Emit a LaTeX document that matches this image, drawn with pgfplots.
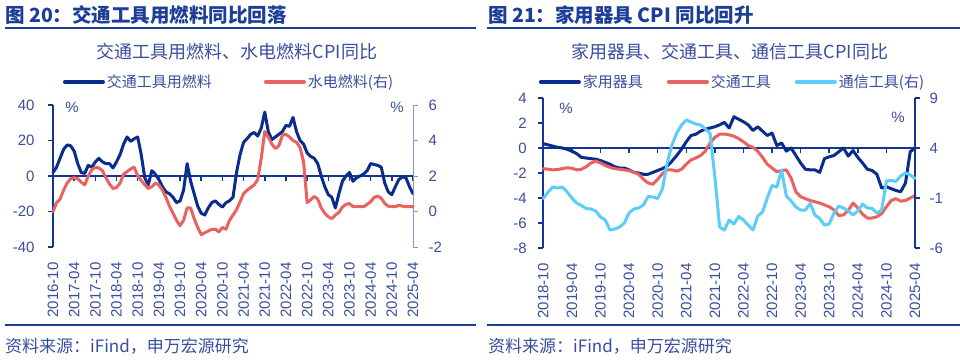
\documentclass[border=0pt]{standalone}
\usepackage{fontspec}
\setmainfont{Liberation Sans}
\newfontfamily\cjk{Noto Sans CJK SC}
\usepackage{pgfplots}
\usepackage{pgfplotstable}
\pgfplotsset{compat=1.18}
\definecolor{hdr}{RGB}{28,62,150}
\definecolor{txt}{RGB}{58,78,158}
\definecolor{dkb}{RGB}{10,44,140}
\definecolor{sal}{RGB}{233,98,95}
\definecolor{ltb}{RGB}{92,205,250}
\definecolor{rax}{RGB}{135,152,200}
\definecolor{axc}{RGB}{20,52,150}

\pgfplotstableread{
i b r
0 2 0.0
1 5 0.5
2 10 0.7
3 15 1.2
4 17.5 1.6
5 17 1.85
6 14 1.9
7 7 1.85
8 2 1.65
9 1.5 1.5
10 6 2.0
11 5 2.35
12 8 2.5
13 10 2.45
14 8 2.3
15 7 1.9
16 7 1.55
17 4.5 1.3
18 8 1.35
19 12 1.6
20 18 2.1
21 22 2.25
22 19.5 2.4
23 21 2.5
24 22 2.0
25 12 1.75
26 -1 1.5
27 -5 1.3
28 3 1.4
29 1 1.6
30 -2 1.5
31 -6 1.2
32 -9 0.8
33 -10 0.3
34 -12 -0.1
35 -15 -0.5
36 -14 -0.8
37 -8 -0.5
38 7 0.2
39 -3 0.2
40 -10 -0.4
41 -17 -0.9
42 -21 -1.3
43 -22 -1.2
44 -18 -1.1
45 -15 -1.0
46 -14 -1.0
47 -16 -1.15
48 -17.5 -0.9
49 -15 -1.0
50 -14 -0.5
51 -12 -0.2
52 2 0.1
53 12 0.55
54 19 1.0
55 21 1.2
56 23.5 1.35
57 24.5 1.5
58 22.5 1.8
59 27 3.0
60 36 4.5
61 25 4.2
62 20.5 3.8
63 22 3.55
64 23.5 3.7
65 25 4.3
66 28.5 4.35
67 28 4.2
68 33 4.0
69 25 3.9
70 20 3.6
71 18 2.8
72 13 0.5
73 11 0.65
74 10 0.85
75 7 0.7
76 0 0.2
77 -6 -0.1
78 -10.5 -0.3
79 -12 -0.4
80 -18 -0.2
81 -10 -0.05
82 -3 0.25
83 0 0.4
84 2 0.45
85 -3 0.27
86 -1 0.27
87 0 0.27
88 1 0.27
89 3 0.4
90 7 0.55
91 6.5 0.8
92 6 0.87
93 5 0.75
94 -4 0.45
95 -9 0.3
96 -10.5 0.27
97 -6 0.27
98 -2 0.35
99 -0.5 0.3
100 -1 0.27
101 -6 0.27
102 -10 0.27
}\Ldata

\pgfplotstableread{
i h t c
0 0.35 -1.65 -1.05
1 0.25 -1.7 -0.4
2 0.15 -1.75 0.1
3 0.05 -1.72 0.0
4 0.0 -1.65 0.1
5 -0.1 -1.58 -0.4
6 -0.25 -1.62 -1.0
7 -0.45 -1.75 -1.5
8 -0.75 -1.7 -1.75
9 -0.8 -1.5 -2.05
10 -0.85 -1.2 -2.1
11 -0.9 -1.05 -2.3
12 -1.0 -1.2 -2.9
13 -1.15 -1.4 -3.2
14 -1.3 -1.55 -4.2
15 -1.5 -1.65 -4.1
16 -1.6 -1.7 -3.9
17 -1.6 -1.75 -3.5
18 -1.75 -1.82 -2.5
19 -1.95 -1.95 -2.1
20 -2.0 -2.1 -2.0
21 -2.1 -2.5 -1.7
22 -2.1 -2.8 -0.85
23 -1.95 -2.9 -0.9
24 -1.8 -2.5 -1.05
25 -1.65 -2.05 -0.1
26 -1.45 -1.75 2.5
27 -1.05 -1.75 4.3
28 -0.6 -1.85 5.5
29 -0.1 -1.7 6.3
30 0.5 -1.3 6.8
31 1.0 -0.95 6.6
32 1.1 -0.8 6.4
33 1.35 -0.6 6.3
34 1.5 -0.25 5.9
35 1.6 0.4 5.45
36 1.7 0.85 1.1
37 1.85 1.1 -3.9
38 2.05 1.12 -4.2
39 1.6 1.05 -3.2
40 2.5 0.95 -3.6
41 2.3 0.75 -2.85
42 2.1 0.5 -3.2
43 1.85 0.2 -3.7
44 1.4 0.05 -4.2
45 1.7 -0.25 -2.8
46 1.35 -0.75 -2.4
47 1.0 -1.3 -1.0
48 1.2 -1.6 0.25
49 0.2 -1.9 0.1
50 0.4 -1.8 1.8
51 -0.25 -1.75 -0.8
52 0.0 -2.4 -1.3
53 -0.6 -3.5 -1.9
54 -1.2 -3.9 -2.2
55 -1.7 -4.05 -2.2
56 -1.75 -4.2 -1.55
57 -1.75 -4.3 -2.7
58 -1.95 -4.4 -3.05
59 -0.85 -4.55 -3.7
60 -0.7 -4.7 -3.6
61 -0.6 -4.95 -2.5
62 -0.3 -5.4 -1.8
63 0.0 -5.35 -2.0
64 -0.65 -5.0 -2.3
65 -0.2 -4.4 -2.7
66 -0.75 -4.8 -2.3
67 -1.2 -5.3 -1.6
68 -1.7 -5.6 -2.0
69 -1.8 -5.6 -2.05
70 -2.1 -5.5 -2.5
71 -3.2 -5.25 -2.2
72 -3.1 -4.7 0.7
73 -3.25 -4.2 0.75
74 -3.4 -4.05 0.65
75 -3.5 -4.25 1.2
76 -2.8 -4.2 1.5
77 -0.3 -4.0 1.3
78 0.0 -3.8 0.95
}\Rdata

\pgfplotsset{
  base/.style={scale only axis, anchor=south west, clip=false,
    enlargelimits=false, xmin=0,
    tick label style={font=\fontsize{15}{15}\selectfont, text=txt},
    major tick length=5pt, tick align=outside,
    every axis plot/.append style={line join=round, line cap=round}},
  zline/.style={axis x line=middle, axis y line=none,
    x axis line style={-, draw=axc, line width=1.5pt},
    xtick style={draw=axc, line width=1.5pt, yshift=-2.5pt},
    tick align=center, xticklabels={}, ytick=\empty},
  lgd/.style={legend style={draw=none, fill=none, legend columns=-1,
      font=\cjk\fontsize{15}{15}\selectfont, text=txt, inner sep=0pt},
    legend image code/.code={\draw[##1, line width=4pt] (0pt,0pt) -- (38pt,0pt);}},
  xlab/.style={axis x line*=bottom, x axis line style={draw=none}, xtick style={draw=none},
    xticklabel style={yshift=-7pt, rotate=90, anchor=east}},
}

\begin{document}
\begin{tikzpicture}[x=1pt,y=1pt]
\useasboundingbox[fill=white] (0,0) rectangle (960,360);

% ---------- headers / footers ----------
\node[anchor=west, font=\cjk\bfseries\fontsize{19.5}{19.5}\selectfont, text=hdr, inner sep=0pt] at (5,345) {图 20：交通工具用燃料同比回落};
\node[anchor=west, font=\cjk\bfseries\fontsize{19.5}{19.5}\selectfont, text=hdr, inner sep=0pt] at (488,345) {图 21：家用器具 CPI 同比回升};
\draw[hdr, line width=2.5pt] (5,332) -- (476,332);
\draw[hdr, line width=2.5pt] (487,332) -- (960,332);
\draw[hdr, line width=2pt] (5,35) -- (476,35);
\draw[hdr, line width=2pt] (487,35) -- (960,35);
\node[anchor=west, font=\cjk\fontsize{17}{17}\selectfont, text=txt, inner sep=0pt] at (5,14) {资料来源：iFind，申万宏源研究};
\node[anchor=west, font=\cjk\fontsize{17}{17}\selectfont, text=txt, inner sep=0pt] at (488,14) {资料来源：iFind，申万宏源研究};
\node[font=\cjk\fontsize{18}{18}\selectfont, text=txt] at (237,308) {交通工具用燃料、水电燃料CPI同比};
\node[font=\cjk\fontsize{18}{18}\selectfont, text=txt] at (730,308) {家用器具、交通工具、通信工具CPI同比};
\node[font=\fontsize{15}{15}\selectfont, text=txt] at (72,253) {\%};
\node[font=\fontsize{15}{15}\selectfont, text=txt] at (397,253) {\%};
\node[font=\fontsize{15}{15}\selectfont, text=txt] at (566,252) {\%};
\node[font=\fontsize{15}{15}\selectfont, text=txt] at (898,243) {\%};

% ---------- left panel ----------
\begin{axis}[base, zline, at={(53pt,113pt)}, width=360pt, height=142pt,
  xmax=102, ymin=-40, ymax=40, xtick={0,6,...,102}]
\addplot[draw=none] coordinates {(0,0)};
\end{axis}

\begin{axis}[base, xlab, lgd, at={(53pt,113pt)}, width=360pt, height=142pt,
  xmax=102, ymin=-40, ymax=40,
  axis y line*=left,
  y axis line style={draw=axc, line width=2pt},
  ytick style={draw=axc, line width=1.5pt},
  yticklabel style={xshift=-10pt},
  ytick={-40,-20,0,20,40}, yticklabels={-40,-20,0,20,40},
  xtick={0,6,...,102},
  xticklabels={2016-10,2017-04,2017-10,2018-04,2018-10,2019-04,2019-10,2020-04,2020-10,2021-04,2021-10,2022-04,2022-10,2023-04,2023-10,2024-04,2024-10,2025-04},
  legend style={at={(0.489,1.162)}, anchor=center, /tikz/every even column/.append style={column sep=50pt}}]
\addplot[dkb, line width=3pt] table[x=i, y=b] {\Ldata};
\addlegendentry{交通工具用燃料}
\addlegendimage{sal, line width=3pt}
\addlegendentry{水电燃料(右)}
\end{axis}

\begin{axis}[base, at={(53pt,113pt)}, width=360pt, height=142pt,
  xmax=102, ymin=-2, ymax=6,
  axis y line*=right, axis x line=none,
  y axis line style={draw=rax, line width=1pt},
  ytick style={draw=rax, line width=1pt},
  yticklabel style={xshift=7pt},
  ytick={-2,0,2,4,6}, yticklabels={-2,0,2,4,6}]
\addplot[sal, line width=3pt] table[x=i, y=r] {\Ldata};
\end{axis}

% ---------- right panel ----------
\begin{axis}[base, zline, at={(543.3pt,112pt)}, width=371.7pt, height=150pt,
  xmax=78, ymin=-8, ymax=4, xtick={0,6,...,78}]
\addplot[draw=none] coordinates {(0,0)};
\end{axis}

\begin{axis}[base, xlab, lgd, at={(543.3pt,112pt)}, width=371.7pt, height=150pt,
  xmax=78, ymin=-8, ymax=4,
  axis y line*=left,
  y axis line style={draw=axc, line width=2pt},
  ytick style={draw=axc, line width=1.5pt},
  yticklabel style={xshift=-8pt},
  ytick={-8,-6,-4,-2,0,2,4}, yticklabels={-8,-6,-4,-2,0,2,4},
  xtick={0,6,...,78},
  xticklabels={2018-10,2019-04,2019-10,2020-04,2020-10,2021-04,2021-10,2022-04,2022-10,2023-04,2023-10,2024-04,2024-10,2025-04},
  legend style={at={(0.509,1.107)}, anchor=center, /tikz/every even column/.append style={column sep=22pt}}]
\addplot[dkb, line width=3pt] table[x=i, y=h] {\Rdata};
\addlegendentry{家用器具}
\addplot[sal, line width=3pt] table[x=i, y=t] {\Rdata};
\addlegendentry{交通工具}
\addlegendimage{ltb, line width=3pt}
\addlegendentry{通信工具(右)}
\end{axis}

\begin{axis}[base, at={(543.3pt,112pt)}, width=371.7pt, height=150pt,
  xmax=78, ymin=-6, ymax=9,
  axis y line*=right, axis x line=none,
  y axis line style={draw=axc, line width=2pt},
  ytick style={draw=axc, line width=1.5pt},
  yticklabel style={xshift=6pt},
  ytick={-6,-1,4,9}, yticklabels={-6,-1,4,9}]
\addplot[ltb, line width=3pt] table[x=i, y=c] {\Rdata};
\end{axis}

\end{tikzpicture}
\end{document}
